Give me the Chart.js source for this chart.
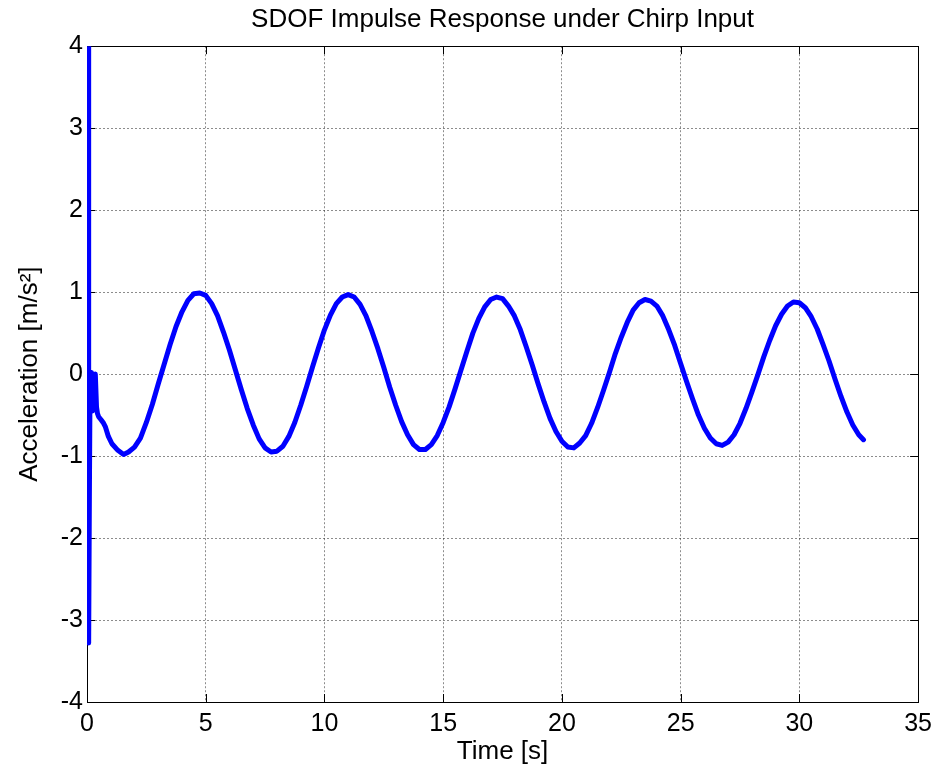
<!DOCTYPE html>
<html>
<head>
<meta charset="utf-8">
<script src="https://cdn.jsdelivr.net/npm/chart.js"></script>
<style>
  html, body { margin: 0; padding: 0; background: #fff; }
  #wrap { width: 939px; height: 775px; }
</style>
</head>
<body>
<div id="wrap"><canvas id="c" width="939" height="775"></canvas></div>
<script>
// time samples [s] and acceleration [m/s^2]
const timeS = [
  0.05, 0.07, 0.10, 0.13, 0.16, 0.19, 0.23, 0.27, 0.31, 0.35, 0.40, 0.44, 0.49,
  0.60, 0.70, 0.77, 0.90, 1.05, 1.30, 1.54,
  1.75,
  2.00, 2.25, 2.50, 2.75,
  3.00, 3.25, 3.50, 3.75,
  4.00, 4.25, 4.50, 4.75,
  5.00, 5.25, 5.50, 5.75,
  6.00, 6.25, 6.50, 6.75,
  7.00, 7.25, 7.50, 7.75,
  8.00, 8.25, 8.50, 8.75,
  9.00, 9.25, 9.50, 9.75,
  10.00, 10.25, 10.50, 10.75,
  11.00, 11.25, 11.50, 11.75,
  12.00, 12.25, 12.50, 12.75,
  13.00, 13.25, 13.50, 13.75,
  14.00, 14.25, 14.50, 14.75,
  15.00, 15.25, 15.50, 15.75,
  16.00, 16.25, 16.50, 16.75,
  17.00, 17.25, 17.50, 17.75,
  18.00, 18.25, 18.50, 18.75,
  19.00, 19.25, 19.50, 19.75,
  20.00, 20.25, 20.50, 20.75,
  21.00, 21.25, 21.50, 21.75,
  22.00, 22.25, 22.50, 22.75,
  23.00, 23.25, 23.50, 23.75,
  24.00, 24.25, 24.50, 24.75,
  25.00, 25.25, 25.50, 25.75,
  26.00, 26.25, 26.50, 26.75,
  27.00, 27.25, 27.50, 27.75,
  28.00, 28.25, 28.50, 28.75,
  29.00, 29.25, 29.50, 29.75,
  30.00, 30.25, 30.50, 30.75,
  31.00, 31.25, 31.50, 31.75,
  32.00, 32.25, 32.50, 32.70
];
const accel = [
  4.00, -3.28, -1.50, -0.02, -0.40, 0.02, -0.45, -0.01, -0.42, 0.00, -0.40, -0.48, -0.52,
  -0.56, -0.60, -0.64, -0.76, -0.85, -0.93, -0.98,
  -0.95,
  -0.89, -0.78, -0.59, -0.37,
  -0.12, 0.12, 0.36, 0.58,
  0.76, 0.90, 0.98, 0.99,
  0.96, 0.86, 0.71, 0.51,
  0.29, 0.05, -0.19, -0.42,
  -0.62, -0.79, -0.90, -0.95,
  -0.94, -0.88, -0.76, -0.59,
  -0.38, -0.15, 0.09, 0.32,
  0.54, 0.72, 0.86, 0.94,
  0.97, 0.94, 0.85, 0.71,
  0.52, 0.31, 0.08, -0.16,
  -0.38, -0.58, -0.74, -0.86,
  -0.92, -0.92, -0.86, -0.75,
  -0.59, -0.40, -0.18, 0.05,
  0.28, 0.50, 0.68, 0.82,
  0.91, 0.94, 0.92, 0.83,
  0.71, 0.54, 0.33, 0.11,
  -0.12, -0.34, -0.54, -0.70,
  -0.82, -0.89, -0.90, -0.84,
  -0.75, -0.60, -0.41, -0.20,
  0.02, 0.25, 0.45, 0.63,
  0.78, 0.87, 0.91, 0.89,
  0.83, 0.71, 0.54, 0.35,
  0.13, -0.09, -0.30, -0.50,
  -0.66, -0.78, -0.85, -0.87,
  -0.83, -0.74, -0.60, -0.42,
  -0.22, -0.01, 0.21, 0.41,
  0.59, 0.73, 0.83, 0.88,
  0.87, 0.81, 0.70, 0.55,
  0.36, 0.16, -0.06, -0.27,
  -0.46, -0.62, -0.74, -0.80
];
const xTicks = [0, 5, 10, 15, 20, 25, 30, 35];
const yTicks = [-4, -3, -2, -1, 0, 1, 2, 3, 4];

const FONT = '"Liberation Sans", Arial, Helvetica, sans-serif';

// MATLAB-style box with inward tick marks on all four sides
const matlabBox = {
  id: 'matlabBox',
  beforeDatasetsDraw(chart) {
    const { ctx, chartArea: a, scales: { x, y } } = chart;
    const len = 8;
    ctx.save();
    ctx.strokeStyle = '#000';
    ctx.lineWidth = 1;
    ctx.beginPath();
    xTicks.forEach(v => {
      const px = Math.round(x.getPixelForValue(v)) + 0.5;
      ctx.moveTo(px, a.bottom); ctx.lineTo(px, a.bottom - len);
      ctx.moveTo(px, a.top); ctx.lineTo(px, a.top + len);
    });
    yTicks.forEach(v => {
      const py = Math.round(y.getPixelForValue(v)) + 0.5;
      ctx.moveTo(a.left, py); ctx.lineTo(a.left + len, py);
      ctx.moveTo(a.right, py); ctx.lineTo(a.right - len, py);
    });
    ctx.stroke();
    ctx.strokeRect(Math.round(a.left) + 0.5, Math.round(a.top) + 0.5,
      Math.round(a.right - a.left), Math.round(a.bottom - a.top));
    ctx.restore();
  }
};

const gridStyle = { color: 'rgba(0,0,0,0.45)', lineWidth: 1, drawTicks: false };

new Chart(document.getElementById('c'), {
  type: 'line',
  data: {
    datasets: [{
      data: timeS.map((t, i) => ({ x: t, y: accel[i] })),
      borderColor: '#0000ff',
      borderWidth: 5,
      borderJoinStyle: 'round',
      borderCapStyle: 'round',
      pointRadius: 0,
      tension: 0,
      fill: false,
      clip: 0
    }]
  },
  options: {
    responsive: false,
    animation: false,
    devicePixelRatio: 1,
    layout: { padding: { left: 0, right: 19, top: 0, bottom: 0 } },
    plugins: {
      legend: { display: false },
      tooltip: { enabled: false },
      title: {
        display: true,
        fullSize: false,
        text: 'SDOF Impulse Response under Chirp Input',
        color: '#000',
        font: { family: FONT, size: 26, weight: 'normal' },
        padding: { top: 4, bottom: 11 }
      }
    },
    scales: {
      x: {
        type: 'linear',
        min: 0, max: 35,
        afterBuildTicks: s => { s.ticks = xTicks.map(v => ({ value: v })); },
        afterFit: s => { s.height = 73; },
        ticks: { color: '#000', font: { family: FONT, size: 25 }, padding: 7, maxRotation: 0, autoSkip: false },
        grid: gridStyle,
        border: { display: false, dash: [2, 2] },
        title: { display: true, text: 'Time [s]', color: '#000', font: { family: FONT, size: 26 }, padding: { top: 0, bottom: 8 } }
      },
      y: {
        type: 'linear',
        min: -4, max: 4,
        afterBuildTicks: s => { s.ticks = yTicks.map(v => ({ value: v })); },
        afterFit: s => { s.width = 87; },
        ticks: { color: '#000', font: { family: FONT, size: 25 }, padding: 4, autoSkip: false },
        grid: gridStyle,
        border: { display: false, dash: [2, 2] },
        title: { display: true, text: 'Acceleration [m/s²]', color: '#000', font: { family: FONT, size: 26 }, padding: { top: 14, bottom: 0 } }
      }
    }
  },
  plugins: [matlabBox]
});
</script>
</body>
</html>
